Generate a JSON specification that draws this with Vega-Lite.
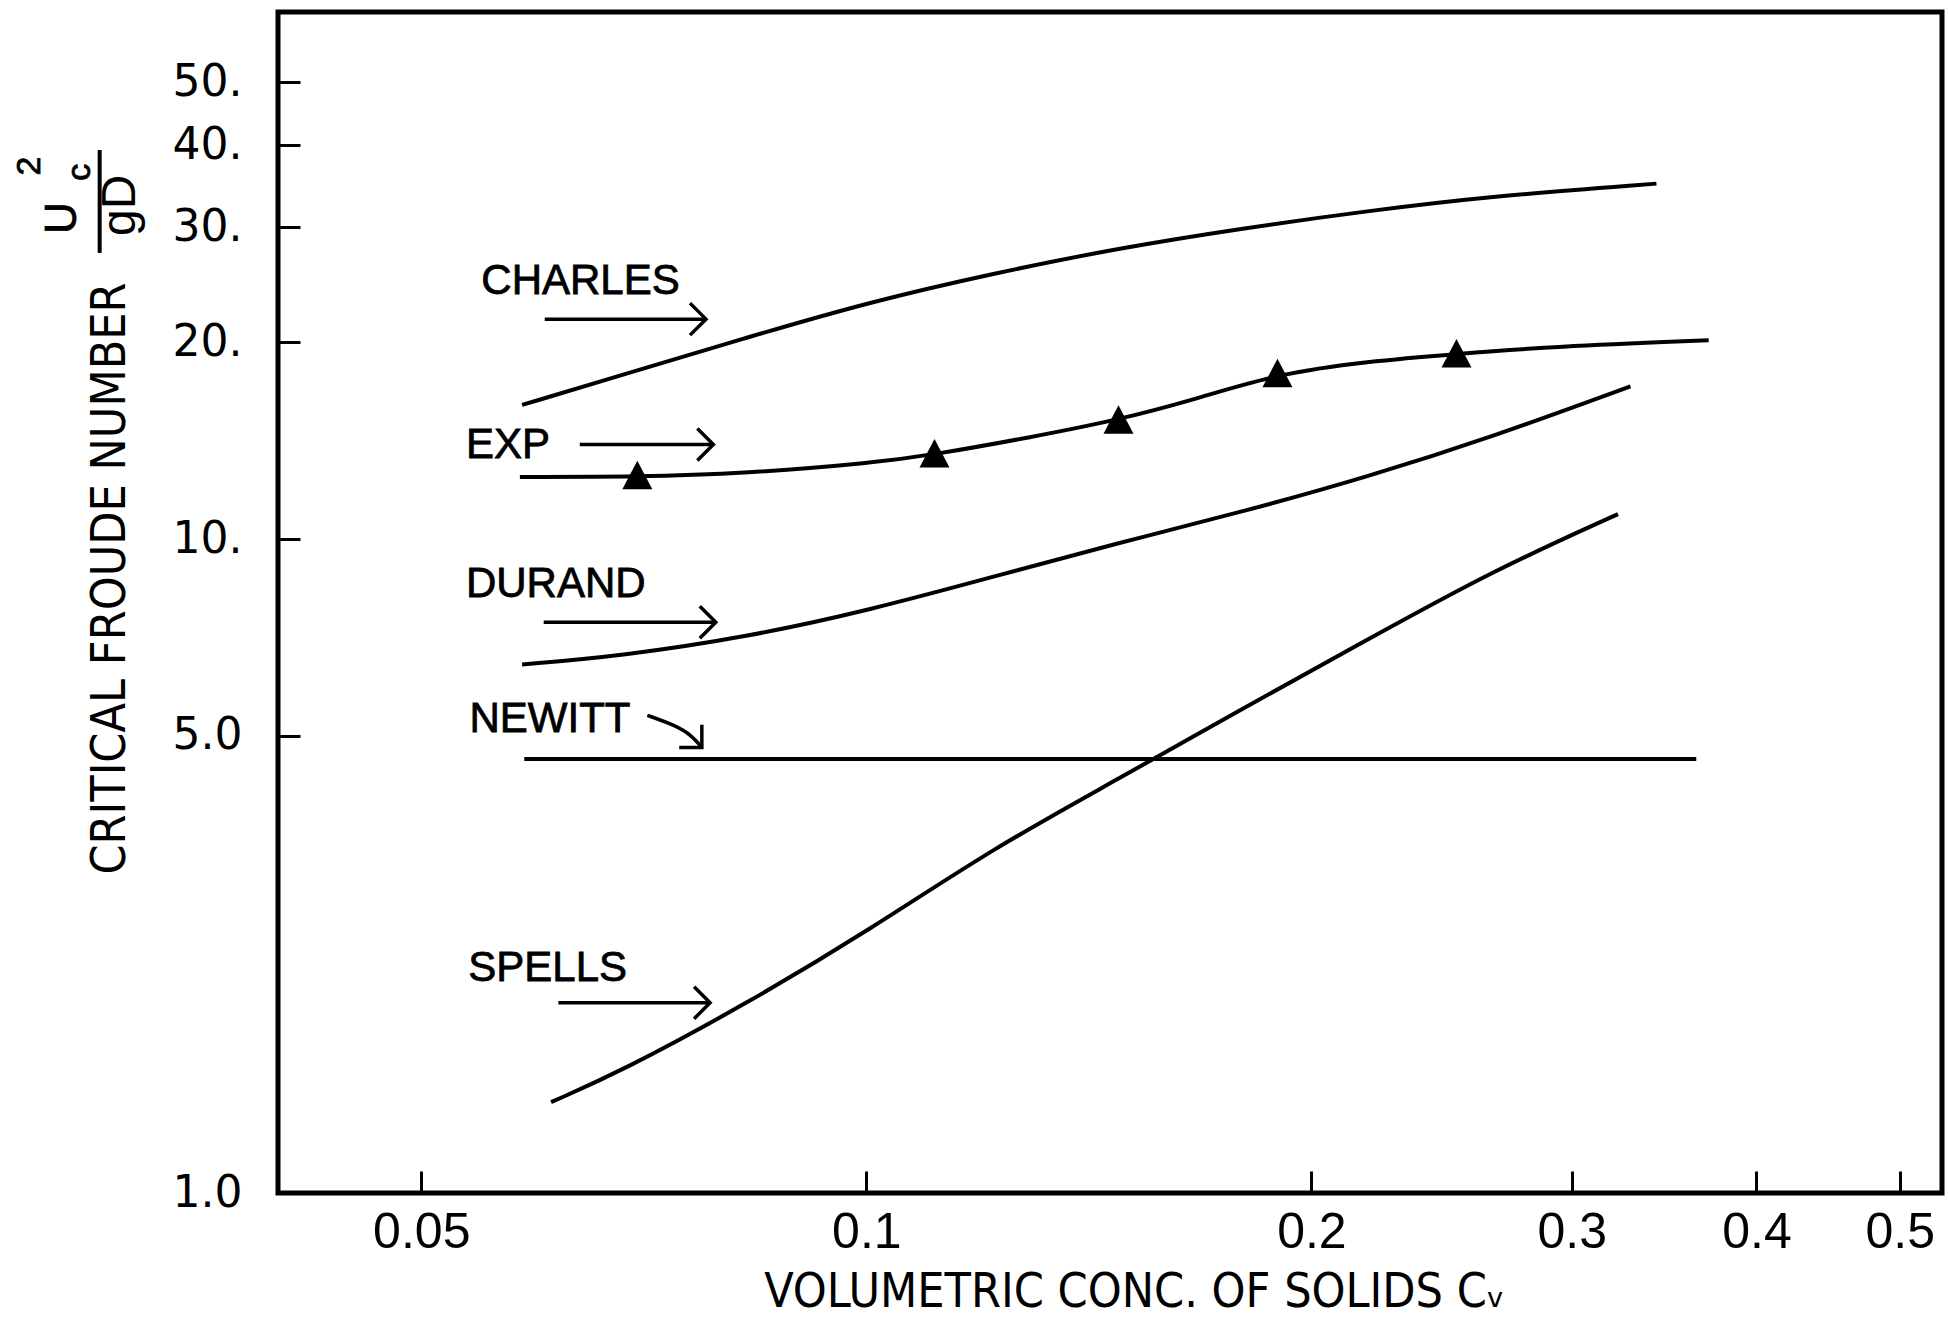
{
  "$schema": "https://vega.github.io/schema/vega-lite/v6.json",
  "width": 1664,
  "height": 1181,
  "autosize": {"type": "none"},
  "padding": {"left": 278, "top": 12, "right": 6, "bottom": 126},
  "background": "white",
  "config": {
    "view": {"stroke": "black", "strokeWidth": 5},
    "axis": {"grid": false, "domain": false, "tickColor": "black", "labelColor": "black", "titleColor": "black", "tickWidth": 3}
  },
  "datasets": {
    "curves": [
      {"curve": "CHARLES", "cv": 0.0585, "fr": 16.04},
      {"curve": "CHARLES", "cv": 0.0683, "fr": 17.82},
      {"curve": "CHARLES", "cv": 0.0829, "fr": 20.32},
      {"curve": "CHARLES", "cv": 0.1006, "fr": 23.07},
      {"curve": "CHARLES", "cv": 0.1221, "fr": 25.52},
      {"curve": "CHARLES", "cv": 0.1481, "fr": 27.86},
      {"curve": "CHARLES", "cv": 0.1797, "fr": 29.88},
      {"curve": "CHARLES", "cv": 0.2182, "fr": 31.76},
      {"curve": "CHARLES", "cv": 0.2647, "fr": 33.47},
      {"curve": "CHARLES", "cv": 0.3423, "fr": 34.97},
      {"curve": "EXP", "cv": 0.0583, "fr": 12.45},
      {"curve": "EXP", "cv": 0.0700, "fr": 12.45},
      {"curve": "EXP", "cv": 0.0829, "fr": 12.61},
      {"curve": "EXP", "cv": 0.1006, "fr": 13.06},
      {"curve": "EXP", "cv": 0.1112, "fr": 13.47},
      {"curve": "EXP", "cv": 0.1293, "fr": 14.32},
      {"curve": "EXP", "cv": 0.1481, "fr": 15.22},
      {"curve": "EXP", "cv": 0.1664, "fr": 16.33},
      {"curve": "EXP", "cv": 0.1897, "fr": 17.90},
      {"curve": "EXP", "cv": 0.2182, "fr": 18.70},
      {"curve": "EXP", "cv": 0.2507, "fr": 19.20},
      {"curve": "EXP", "cv": 0.2915, "fr": 19.71},
      {"curve": "EXP", "cv": 0.3713, "fr": 20.15},
      {"curve": "DURAND", "cv": 0.0585, "fr": 6.43},
      {"curve": "DURAND", "cv": 0.0683, "fr": 6.63},
      {"curve": "DURAND", "cv": 0.0829, "fr": 7.08},
      {"curve": "DURAND", "cv": 0.1006, "fr": 7.79},
      {"curve": "DURAND", "cv": 0.1221, "fr": 8.77},
      {"curve": "DURAND", "cv": 0.1481, "fr": 9.87},
      {"curve": "DURAND", "cv": 0.1797, "fr": 11.01},
      {"curve": "DURAND", "cv": 0.2182, "fr": 12.45},
      {"curve": "DURAND", "cv": 0.2647, "fr": 14.32},
      {"curve": "DURAND", "cv": 0.3287, "fr": 17.13},
      {"curve": "NEWITT", "cv": 0.0587, "fr": 4.61},
      {"curve": "NEWITT", "cv": 0.3642, "fr": 4.61},
      {"curve": "SPELLS", "cv": 0.0612, "fr": 1.377},
      {"curve": "SPELLS", "cv": 0.0683, "fr": 1.536},
      {"curve": "SPELLS", "cv": 0.0829, "fr": 1.945},
      {"curve": "SPELLS", "cv": 0.1006, "fr": 2.529},
      {"curve": "SPELLS", "cv": 0.1221, "fr": 3.378},
      {"curve": "SPELLS", "cv": 0.1481, "fr": 4.297},
      {"curve": "SPELLS", "cv": 0.1797, "fr": 5.512},
      {"curve": "SPELLS", "cv": 0.2182, "fr": 7.015},
      {"curve": "SPELLS", "cv": 0.2647, "fr": 8.925},
      {"curve": "SPELLS", "cv": 0.3224, "fr": 10.92}
    ],
    "experiments": [
      {"cv": 0.0700, "fr": 12.5},
      {"cv": 0.1112, "fr": 13.5},
      {"cv": 0.1481, "fr": 15.2},
      {"cv": 0.1897, "fr": 17.9},
      {"cv": 0.2507, "fr": 19.2}
    ],
    "labels": [
      {"label": "CHARLES", "cv": 0.0549, "fr": 24.86},
      {"label": "EXP", "cv": 0.0536, "fr": 13.95},
      {"label": "DURAND", "cv": 0.0536, "fr": 8.544},
      {"label": "NEWITT", "cv": 0.0539, "fr": 5.30},
      {"label": "SPELLS", "cv": 0.0538, "fr": 2.209}
    ],
    "arrows": [
      {"label": "CHARLES", "cv": 0.0606, "cv2": 0.0779, "fr": 21.70},
      {"label": "EXP", "cv": 0.0640, "cv2": 0.0788, "fr": 13.95},
      {"label": "DURAND", "cv": 0.0605, "cv2": 0.0791, "fr": 7.46},
      {"label": "SPELLS", "cv": 0.0619, "cv2": 0.0784, "fr": 1.954}
    ],
    "newittArrow": [
      {"cv": 0.0711, "fr": 5.377},
      {"cv": 0.0743, "fr": 5.188},
      {"cv": 0.0762, "fr": 5.009},
      {"cv": 0.0774, "fr": 4.802}
    ],
    "newittTip": [
      {"cv": 0.0774, "fr": 4.802}
    ],
    "fractionU": [
      {"t": "U", "cv": 0.0286, "fr": 30.97}
    ],
    "fractionDen": [
      {"t": "gD", "cv": 0.0313, "fr": 32.4}
    ],
    "fractionSmall": [
      {"t": "c", "cv": 0.0294, "fr": 36.4},
      {"t": "2", "cv": 0.0272, "fr": 37.2}
    ],
    "fractionBar": [
      {"cv": 0.0303, "fr": 39.36, "fr2": 27.4}
    ]
  },
  "encoding": {
    "x": {
      "field": "cv",
      "type": "quantitative",
      "scale": {"type": "log", "domain": [0.04, 0.534], "nice": false},
      "axis": {
        "values": [0.05, 0.1, 0.2, 0.3, 0.4, 0.5],
        "format": "~g",
        "tickSize": -22,
        "labelPadding": 36,
        "labelFont": "Liberation Sans",
        "labelFontSize": 50,
        "labelFlush": false,
        "labelOverlap": false,
        "title": "VOLUMETRIC CONC. OF SOLIDS Cᵥ",
        "titleFont": "'Liberation Sans Narrow', 'DejaVu Sans Condensed', 'Liberation Sans', sans-serif",
        "titleFontSize": 48,
        "titleFontWeight": "normal",
        "titleX": 856,
        "titleY": 113,
        "titleBaseline": "alphabetic",
        "titleAlign": "center"
      }
    },
    "y": {
      "field": "fr",
      "type": "quantitative",
      "scale": {"type": "log", "domain": [1, 64], "nice": false},
      "axis": {
        "values": [1, 5, 10, 20, 30, 40, 50],
        "labelExpr": "datum.value == 1 ? '1.0' : datum.value == 5 ? '5.0' : format(datum.value, 'd') + '.'",
        "tickSize": -22,
        "labelPadding": 58,
        "labelFont": "DejaVu Sans",
        "labelFontSize": 44,
        "labelOverlap": false,
        "labelFlush": false,
        "title": "CRITICAL FROUDE NUMBER",
        "titleFont": "'Liberation Sans Narrow', 'DejaVu Sans Condensed', 'Liberation Sans', sans-serif",
        "titleFontSize": 48,
        "titleFontWeight": "normal",
        "titleX": -168,
        "titleY": 566,
        "titleAngle": 270,
        "titleBaseline": "middle",
        "titleAlign": "center"
      }
    }
  },
  "layer": [
    {
      "data": {"name": "curves"},
      "mark": {"type": "line", "color": "black", "strokeWidth": 4, "interpolate": "basis"},
      "encoding": {"detail": {"field": "curve"}, "order": {"field": "cv"}}
    },
    {
      "data": {"name": "experiments"},
      "mark": {"type": "point", "shape": "M0,-1L1,0.9L-1,0.9Z", "size": 900, "filled": true, "color": "black", "opacity": 1}
    },
    {
      "data": {"name": "labels"},
      "mark": {"type": "text", "align": "left", "baseline": "middle", "font": "Liberation Sans", "fontSize": 42, "color": "black", "stroke": "black", "strokeWidth": 0.8},
      "encoding": {"text": {"field": "label"}}
    },
    {
      "data": {"name": "arrows"},
      "mark": {"type": "rule", "color": "black", "strokeWidth": 3.5},
      "encoding": {"x2": {"field": "cv2"}}
    },
    {
      "data": {"name": "arrows"},
      "mark": {"type": "point", "shape": "M-1,-1L0,0L-1,1", "size": 1024, "filled": false, "color": "black", "strokeWidth": 3.5, "opacity": 1},
      "encoding": {"x": {"field": "cv2", "type": "quantitative"}}
    },
    {
      "data": {"name": "newittArrow"},
      "mark": {"type": "line", "color": "black", "strokeWidth": 3.5, "interpolate": "basis"},
      "encoding": {}
    },
    {
      "data": {"name": "newittTip"},
      "mark": {"type": "point", "shape": "M-1,-1L0,0L-1,1", "size": 1024, "angle": 45, "filled": false, "color": "black", "strokeWidth": 3.5, "opacity": 1}
    },
    {
      "data": {"name": "fractionU"},
      "mark": {"type": "text", "angle": 270, "align": "center", "baseline": "middle", "font": "Liberation Sans", "fontSize": 44, "color": "black", "stroke": "black", "strokeWidth": 0.8},
      "encoding": {"text": {"field": "t"}}
    },
    {
      "data": {"name": "fractionDen"},
      "mark": {"type": "text", "angle": 270, "align": "center", "baseline": "middle", "font": "Liberation Sans", "fontSize": 48, "color": "black"},
      "encoding": {"text": {"field": "t"}}
    },
    {
      "data": {"name": "fractionSmall"},
      "mark": {"type": "text", "angle": 270, "align": "center", "baseline": "middle", "font": "Liberation Sans", "fontSize": 34, "color": "black", "stroke": "black", "strokeWidth": 0.8},
      "encoding": {"text": {"field": "t"}}
    },
    {
      "data": {"name": "fractionBar"},
      "mark": {"type": "rule", "color": "black", "strokeWidth": 4},
      "encoding": {"y2": {"field": "fr2"}}
    }
  ]
}
